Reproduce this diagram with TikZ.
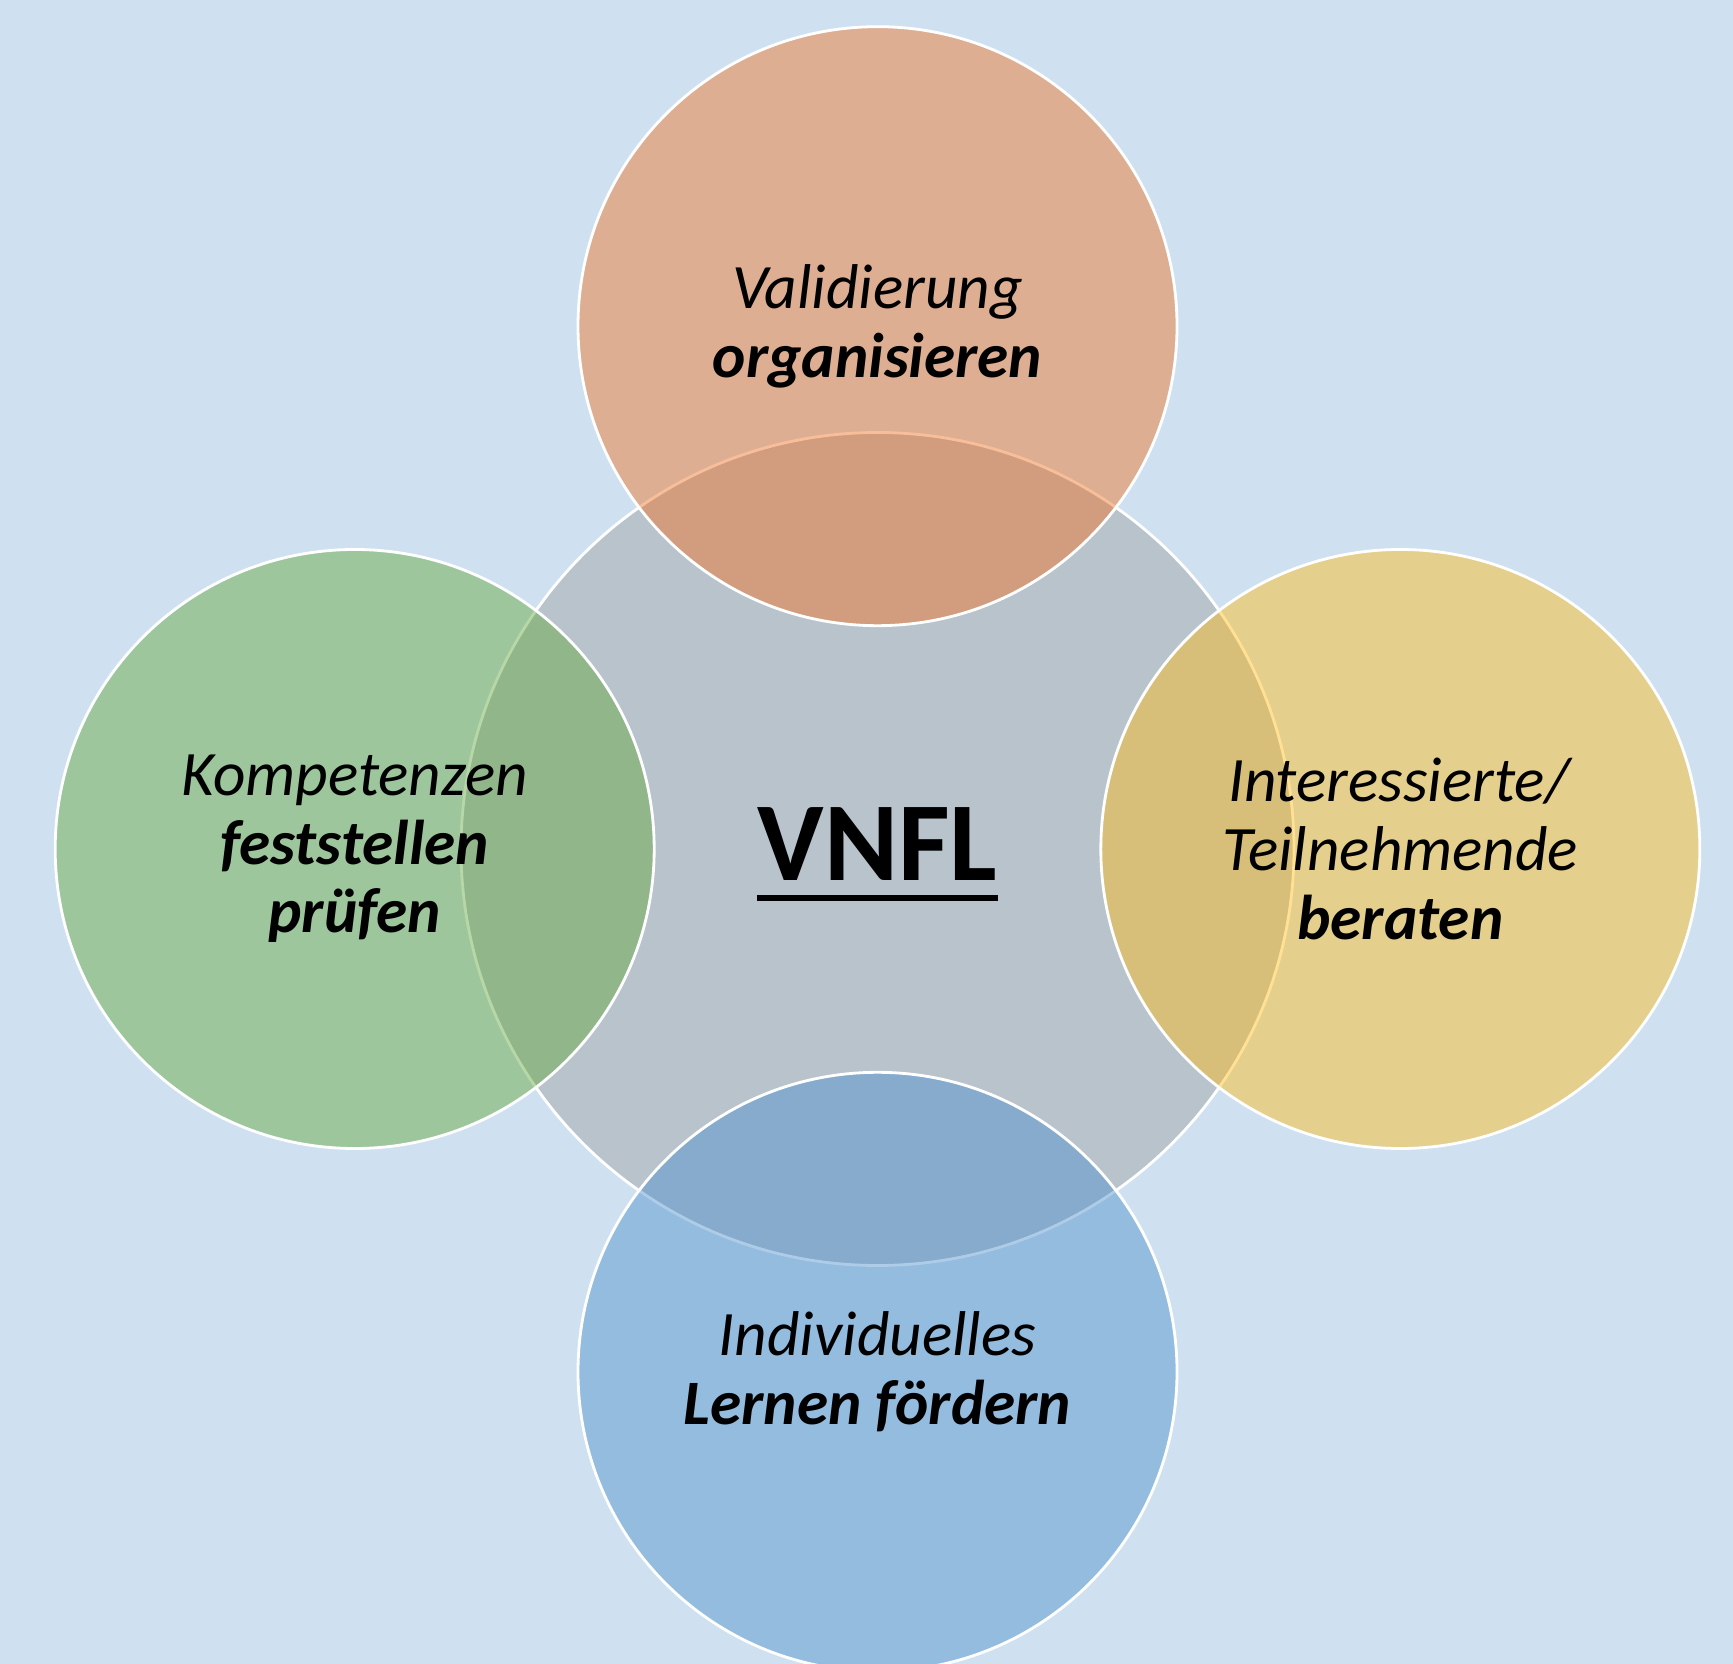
\documentclass[tikz,border=0pt]{standalone}
\usepackage{fontspec}
\setmainfont{Carlito}
\usetikzlibrary{positioning,calc}
\definecolor{skyback}{RGB}{207,225,240}
\definecolor{hubgray}{RGB}{185,195,204}
\definecolor{valorange}{RGB}{240,112,33}
\definecolor{kompgreen}{RGB}{98,167,58}
\definecolor{beratyellow}{RGB}{255,187,22}
\definecolor{lernblue}{RGB}{76,143,204}

\begin{document}
\begin{tikzpicture}[
        node distance=-1.96cm,
        font=\fontsize{18}{19.5}\selectfont,
        hub/.style={circle, draw=white, line width=0.8pt, fill=hubgray, minimum size=8.33cm},
        petal/.style={circle, draw=white, line width=0.8pt, fill=#1, fill opacity=0.45, text opacity=1, minimum size=5.99cm, align=center, inner sep=0pt}
    ]
        \useasboundingbox (0,0) rectangle (17.33,-16.64);
        \fill[skyback] (0,0) rectangle (17.33,-16.64);

        \node[hub] (hub) at (8.775,-8.49) {};
        \node[font=\bfseries\fontsize{32}{34}\selectfont, inner sep=0pt, yshift=0.45mm] (vnfl) at (hub) {VNFL};
        \draw[line width=1.7pt] ($(vnfl.base west)+(0,-0.17)$) -- ($(vnfl.base east)+(0,-0.17)$);

        \node[petal=valorange, above=of hub] (val) {\textit{Validierung}\\\textbf{\textit{organisieren}}};
        \node[petal=kompgreen, left=of hub] (komp) {\textit{Kompetenzen}\\\textbf{\textit{feststellen}}\\\textbf{\textit{prüfen}}};
        \node[petal=beratyellow, right=of hub] (berat) {\textit{Interessierte/}\\\textit{Teilnehmende}\\\textbf{\textit{beraten}}};
        \node[petal=lernblue, below=of hub] (lern) {\textit{Individuelles}\\\textbf{\textit{Lernen fördern}}};
    \end{tikzpicture}
\end{document}
